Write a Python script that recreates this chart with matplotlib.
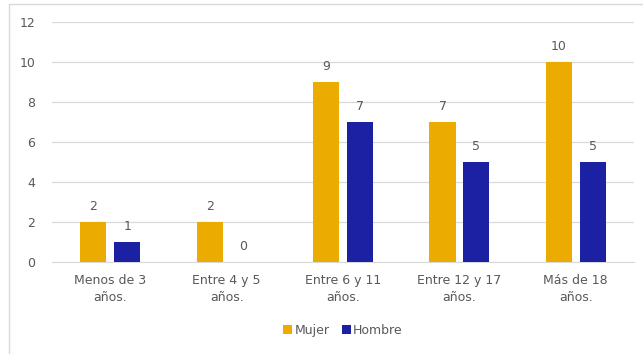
import matplotlib.pyplot as plt
from matplotlib.patches import Rectangle
import numpy as np

categorias = ['Menos de 3\naños.', 'Entre 4 y 5\naños.', 'Entre 6 y 11\naños.',
              'Entre 12 y 17\naños.', 'Más de 18\naños.']
mujer = [2, 2, 9, 7, 10]
hombre = [1, 0, 7, 5, 5]

color_mujer = '#EBAB00'
color_hombre = '#1C21A3'
gris = '#595959'

plt.rcParams['font.family'] = 'DejaVu Sans'

fig = plt.figure(figsize=(6.43, 3.54), dpi=100)
ax = fig.add_axes([0.081, 0.260, 0.905, 0.678])

x = np.arange(len(categorias))
ancho = 0.225
b1 = ax.bar(x - 0.145, mujer, ancho, color=color_mujer, label='Mujer', zorder=3)
b2 = ax.bar(x + 0.145, hombre, ancho, color=color_hombre, label='Hombre', zorder=3)

for barras in (b1, b2):
    for b in barras:
        h = b.get_height()
        ax.text(b.get_x() + b.get_width() / 2, h + 0.45, str(int(h)),
                ha='center', va='bottom', fontsize=9, color=gris)

ax.set_xlim(-0.5, len(categorias) - 0.5)
ax.set_ylim(0, 12)
ax.set_yticks(range(0, 13, 2))
ax.set_xticks(x)
ax.set_xticklabels(categorias, fontsize=9, color=gris, linespacing=1.35)
ax.tick_params(axis='y', labelsize=9, labelcolor=gris, length=0, pad=12)
ax.tick_params(axis='x', length=0, pad=9)
ax.grid(axis='y', color='#D9D9D9', linewidth=0.9, zorder=0)
for s in ['top', 'right', 'left']:
    ax.spines[s].set_visible(False)
ax.spines['bottom'].set_color('#D9D9D9')

ax.legend(loc='center', bbox_to_anchor=(0.5, -0.285), ncol=2, frameon=False,
          fontsize=9, labelcolor=gris, handlelength=0.7, handleheight=0.7,
          handletextpad=0.2, columnspacing=1.0)

fig.patches.append(Rectangle((9 / 643, -0.01), 0.99, 1 - 4 / 354 + 0.01,
                             transform=fig.transFigure, fill=False,
                             edgecolor='#D9D9D9', linewidth=1))

fig.savefig('out.png', dpi=100)
plt.close()
